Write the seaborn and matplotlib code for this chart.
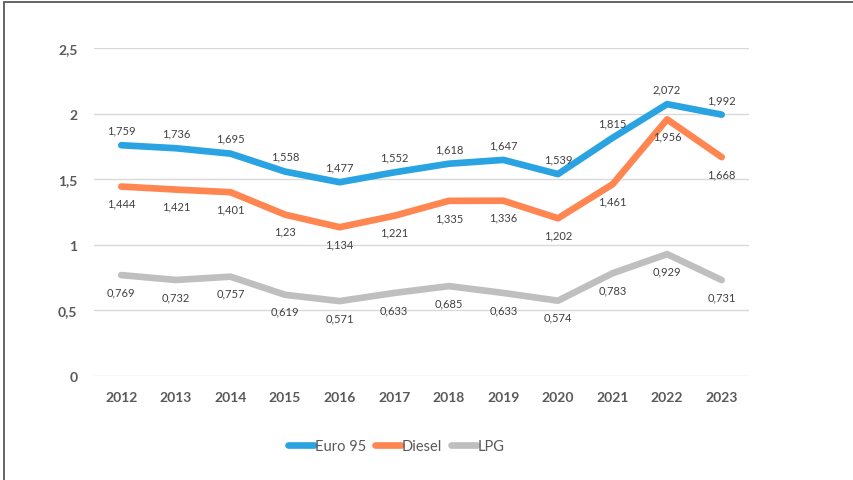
import matplotlib
matplotlib.use("Agg")
import matplotlib.pyplot as plt
import seaborn as sns
import pandas as pd
from matplotlib.patches import Rectangle
from matplotlib.lines import Line2D

years = ["2012", "2013", "2014", "2015", "2016", "2017", "2018", "2019", "2020", "2021", "2022", "2023"]
euro95 = [1.759, 1.736, 1.695, 1.558, 1.477, 1.552, 1.618, 1.647, 1.539, 1.815, 2.072, 1.992]
diesel = [1.444, 1.421, 1.401, 1.23, 1.134, 1.221, 1.335, 1.336, 1.202, 1.461, 1.956, 1.668]
lpg = [0.769, 0.732, 0.757, 0.619, 0.571, 0.633, 0.685, 0.633, 0.574, 0.783, 0.929, 0.731]
series_names = ["Euro 95", "Diesel", "LPG"]
y_ticks = [0, 0.5, 1, 1.5, 2, 2.5]
y_tick_labels = ["0", "0,5", "1", "1,5", "2", "2,5"]

colors = {"Euro 95": "#29A3E2", "Diesel": "#FF8650", "LPG": "#BFBFBF"}
label_pos = {"Euro 95": "above", "Diesel": "below", "LPG": "below"}

sns.set_theme(style="white")
plt.rcParams["font.family"] = ["Lato", "DejaVu Sans"]

rows = []
for name, vals in zip(series_names, [euro95, diesel, lpg]):
    for i, v in enumerate(vals):
        rows.append({"x": i, "year": years[i], "value": v, "series": name})
df = pd.DataFrame(rows)

fig = plt.figure(figsize=(8.54, 4.81), dpi=100)
ax = fig.add_axes([94 / 854, 1 - 377 / 481, (749 - 94) / 854, (377 - 49) / 481])

sns.lineplot(data=df, x="x", y="value", hue="series", hue_order=series_names,
             palette=colors, linewidth=4.8, ax=ax, legend=False,
             solid_capstyle="round", solid_joinstyle="round")

ax.set_xlim(-0.5, len(years) - 0.5)
ax.set_ylim(0, 2.5)
ax.set_yticks(y_ticks)
ax.set_yticklabels(y_tick_labels)
ax.set_xticks(range(len(years)))
ax.set_xticklabels(years)
ax.set_xlabel("")
ax.set_ylabel("")
for s in ax.spines.values():
    s.set_visible(False)
ax.grid(axis="y", color="#D9D9D9", linewidth=1.0)
ax.set_axisbelow(True)
ax.tick_params(axis="both", length=0, labelsize=10, labelcolor="#595959")
ax.tick_params(axis="y", pad=12)
ax.tick_params(axis="x", pad=11)
for lbl in ax.get_xticklabels() + ax.get_yticklabels():
    lbl.set_fontweight("bold")

for name in series_names:
    d = df[df["series"] == name]
    for _, r in d.iterrows():
        txt = f"{r['value']:g}".replace(".", ",")
        if label_pos[name] == "above":
            ax.annotate(txt, (r["x"], r["value"]), xytext=(0, 7), textcoords="offset points",
                        ha="center", va="bottom", fontsize=8, color="#404040")
        else:
            ax.annotate(txt, (r["x"], r["value"]), xytext=(0, -8), textcoords="offset points",
                        ha="center", va="top", fontsize=8, color="#404040")

handles = [Line2D([0], [0], color=colors[n], linewidth=4.8, solid_capstyle="round") for n in series_names]
fig.legend(handles, series_names, loc="center", bbox_to_anchor=(396 / 854, 1 - 447 / 481),
           ncol=3, frameon=False, fontsize=10.5, handlelength=1.8, handletextpad=0.05,
           columnspacing=0.6, labelcolor="#595959")

fig.patches.append(Rectangle((4 / 854, -0.1), 1.2, (1 - 3 / 481) + 0.1, transform=fig.transFigure,
                             fill=False, edgecolor="#595959", linewidth=1.3))

fig.savefig("out.png", dpi=100)
